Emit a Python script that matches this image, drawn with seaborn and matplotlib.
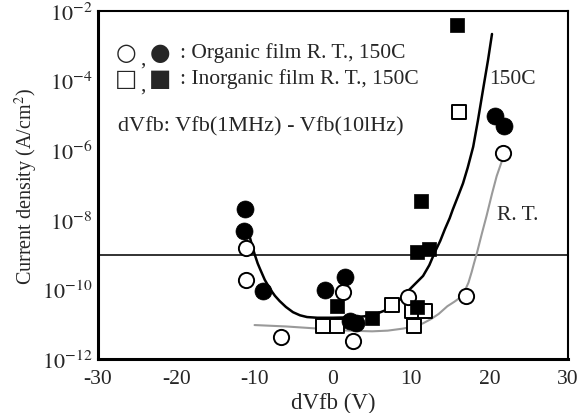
import numpy as np
import pandas as pd
import matplotlib
matplotlib.use("Agg")
import matplotlib.pyplot as plt
import seaborn as sns
from matplotlib.ticker import LogLocator, FuncFormatter, NullLocator

# ---- data ----
org_150_x = [-11.2, -11.4, -8.9, -1.0, 1.5, 2.2, 3.0, 20.7, 21.8]
org_150_y = [2.0e-8, 4.8e-9, 8.9e-11, 1.0e-10, 2.3e-10, 1.26e-11, 1.1e-11, 9.5e-6, 5.0e-6]

org_rt_x = [-11.1, -11.1, -6.6, 1.3, 2.6, 9.6, 17.0, 21.7]
org_rt_y = [1.55e-9, 1.86e-10, 4.3e-12, 8.5e-11, 3.3e-12, 6.0e-11, 6.5e-11, 8.3e-7]

inorg_150_x = [0.5, 5.0, 10.7, 10.7, 12.3, 11.2, 15.8]
inorg_150_y = [3.3e-11, 1.5e-11, 3.2e-11, 1.17e-9, 1.45e-9, 3.5e-8, 4.0e-3]

inorg_rt_x = [-1.3, 0.5, 7.5, 10.1, 11.8, 10.3, 16.1]
inorg_rt_y = [8.9e-12, 8.9e-12, 3.5e-11, 2.4e-11, 2.4e-11, 8.9e-12, 1.26e-5]

# guide curves drawn in the figure (log10 of current density)
fit_150_x = [-10.6, -10.3, -10.0, -9.6, -9.3, -8.7, -8.0, -7.4, -6.8, -6.0, -5.1, -4.2,
             -3.3, -2.0, 0.0, 2.0, 4.0, 5.5, 7.0, 8.0, 9.2, 10.3, 11.5, 12.3, 13.0,
             13.7, 14.3, 14.9, 15.3, 16.0, 16.6, 17.2, 17.9, 18.5, 19.2, 19.8, 20.3]
fit_150_log = [-8.5, -8.75, -8.98, -9.25, -9.41, -9.72, -9.99, -10.18, -10.33, -10.5,
               -10.65, -10.74, -10.79, -10.81, -10.81, -10.8, -10.77, -10.7, -10.57,
               -10.42, -10.13, -9.88, -9.61, -9.3, -8.93, -8.6, -8.26, -7.95, -7.7,
               -7.3, -6.95, -6.5, -5.9, -5.15, -4.2, -3.4, -2.66]

fit_rt_x = [-10.0, -6.0, -2.0, 2.0, 5.0, 7.0, 9.0, 10.5, 11.5, 12.5, 13.5, 14.6, 15.5,
            16.3, 16.8, 17.3, 17.7, 18.0, 18.4, 19.0, 19.6, 20.3, 20.9, 21.5, 22.0]
fit_rt_log = [-11.02, -11.06, -11.12, -11.18, -11.2, -11.18, -11.12, -11.05, -10.97,
              -10.85, -10.7, -10.48, -10.35, -10.22, -10.05, -9.8, -9.5, -9.25, -8.93,
              -8.4, -7.89, -7.25, -6.74, -6.35, -6.1]

ref_level = 1e-9

x_ticks = [-30, -20, -10, 0, 10, 20, 30]

# ---- plotting ----
sns.set_theme(style="white")
plt.rcParams['font.family'] = ['Liberation Serif', 'DejaVu Sans']
plt.rcParams['mathtext.fontset'] = 'stix'

fig = plt.figure(figsize=(5.79, 4.14), dpi=100)
ax = fig.add_axes([0.169, 0.130, 0.812, 0.841])

df150 = pd.DataFrame({"x": fit_150_x, "y": 10.0 ** np.array(fit_150_log)})
dfrt = pd.DataFrame({"x": fit_rt_x, "y": 10.0 ** np.array(fit_rt_log)})

ax.axhline(ref_level, color="#222222", lw=1.3, zorder=1)
sns.lineplot(data=dfrt, x="x", y="y", ax=ax, sort=False, estimator=None,
             color="#9a9a9a", lw=1.5, zorder=2)
sns.lineplot(data=df150, x="x", y="y", ax=ax, sort=False, estimator=None,
             color="black", lw=1.8, zorder=2)

sns.scatterplot(x=inorg_rt_x, y=inorg_rt_y, ax=ax, marker="s", s=95,
                facecolor="white", edgecolor="black", linewidth=1.4, zorder=3)
sns.scatterplot(x=org_rt_x, y=org_rt_y, ax=ax, marker="o", s=120,
                facecolor="white", edgecolor="black", linewidth=1.4, zorder=3)
sns.scatterplot(x=inorg_150_x, y=inorg_150_y, ax=ax, marker="s", s=95,
                color="black", edgecolor="black", linewidth=0.5, zorder=4)
sns.scatterplot(x=org_150_x, y=org_150_y, ax=ax, marker="o", s=150,
                color="black", edgecolor="black", linewidth=0.5, zorder=4)

ax.set_yscale("log")
ax.set_xlim(-30, 30)
ax.set_ylim(1e-12, 1e-2)
ax.set_xticks(x_ticks)
ax.set_xticklabels([str(t) for t in x_ticks], fontsize=15.5)

ax.yaxis.set_major_locator(LogLocator(base=10, numticks=20))
ax.yaxis.set_minor_locator(NullLocator())

def fmt(v, pos):
    e = int(round(np.log10(v)))
    if e % 2 == 0:
        return r"$10^{-%d}$" % (-e) if e < 0 else r"$10^{%d}$" % e
    return ""

ax.yaxis.set_major_formatter(FuncFormatter(fmt))
ax.tick_params(axis="y", direction="in", length=10, width=2, labelsize=16, pad=4)
ax.tick_params(axis="x", direction="in", length=8, width=2, labelsize=15.5, pad=7)

for side in ["left", "bottom"]:
    ax.spines[side].set_linewidth(2.2)
for side in ["top", "right"]:
    ax.spines[side].set_linewidth(1.5)
for s in ax.spines.values():
    s.set_color("black")

ax.set_xlabel("dVfb (V)", fontsize=16.5, labelpad=3)
ax.set_ylabel(r"Current density (A/cm$^2$)", fontsize=14.5, labelpad=1)

# legend-like text
fam = ['DejaVu Sans']
ax.text(0.060, 0.882, "○", transform=ax.transAxes, fontsize=17, family=fam,
        va="center", ha="center")
ax.text(0.095, 0.862, ",", transform=ax.transAxes, fontsize=15, va="center", ha="center")
ax.text(0.132, 0.882, "●", transform=ax.transAxes, fontsize=17, family=fam,
        va="center", ha="center")
ax.text(0.174, 0.882, ": Organic film R. T., 150C", transform=ax.transAxes,
        fontsize=15.5, va="center")
ax.text(0.060, 0.807, "□", transform=ax.transAxes, fontsize=17, family=fam,
        va="center", ha="center")
ax.text(0.095, 0.787, ",", transform=ax.transAxes, fontsize=15, va="center", ha="center")
ax.text(0.132, 0.807, "■", transform=ax.transAxes, fontsize=17, family=fam,
        va="center", ha="center")
ax.text(0.174, 0.807, ": Inorganic film R. T., 150C", transform=ax.transAxes,
        fontsize=15.5, va="center")
ax.text(0.043, 0.670, "dVfb: Vfb(1MHz) - Vfb(10lHz)", transform=ax.transAxes,
        fontsize=16, va="center")
ax.text(20.0, 10 ** -3.95, "150C", fontsize=15.5, va="center")
ax.text(20.9, 10 ** -7.85, "R. T.", fontsize=15.5, va="center")

fig.savefig("out.png", dpi=100)
